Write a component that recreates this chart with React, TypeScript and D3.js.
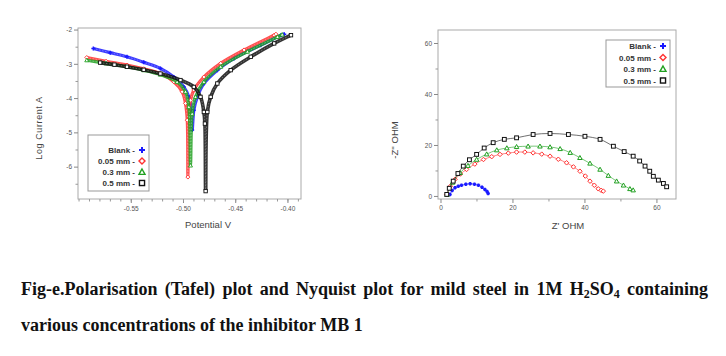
import React, { useLayoutEffect, useRef, useState } from "react";
import * as d3 from "d3";

// ---------- Data ----------
const seriesNames = ["Blank", "0.05 mm", "0.3 mm", "0.5 mm"];
const seriesColors = ["#1a1aff", "#ff3030", "#20a020", "#111111"];
const seriesShapes = ["plus", "diamond", "triangle", "square"];

// Tafel: [Potential V, log current]
const tafelBlank: [number, number][] = [
  [-0.5863, -2.54], [-0.5701, -2.66], [-0.5541, -2.78], [-0.5381, -2.94], [-0.5221, -3.12],
  [-0.5093, -3.37], [-0.4997, -3.66], [-0.4949, -3.95], [-0.4926, -4.34], [-0.4917, -4.92],
  [-0.4901, -4.34], [-0.4868, -3.95], [-0.4805, -3.56], [-0.4676, -3.17], [-0.4516, -2.83],
  [-0.4388, -2.62], [-0.426, -2.44], [-0.4067, -2.15], [-0.4035, -2.12],
];
const tafelC005: [number, number][] = [
  [-0.5926, -2.8], [-0.5741, -2.91], [-0.5541, -3.02], [-0.5381, -3.13], [-0.5221, -3.27],
  [-0.5093, -3.51], [-0.5013, -3.8], [-0.4981, -4.14], [-0.4964, -4.63], [-0.4958, -6.29],
  [-0.4949, -4.53], [-0.4933, -4.05], [-0.4901, -3.75], [-0.4805, -3.37], [-0.4644, -2.97],
  [-0.442, -2.58], [-0.4132, -2.15], [-0.4115, -2.12],
];
const tafelC03: [number, number][] = [
  [-0.5926, -2.88], [-0.5741, -2.97], [-0.5541, -3.07], [-0.5381, -3.17], [-0.5221, -3.3],
  [-0.5061, -3.51], [-0.4981, -3.8], [-0.4949, -4.24], [-0.4933, -5.95],
  [-0.4917, -4.44], [-0.4885, -3.95], [-0.4805, -3.51], [-0.4644, -3.07], [-0.4388, -2.63],
  [-0.41, -2.2], [-0.4055, -2.13],
];
const tafelC05: [number, number][] = [
  [-0.5798, -2.95], [-0.5661, -3.01], [-0.5541, -3.07], [-0.5381, -3.16], [-0.5221, -3.27],
  [-0.5029, -3.46], [-0.4901, -3.66], [-0.4837, -3.95], [-0.4805, -4.39], [-0.4795, -4.73],
  [-0.4788, -6.7], [-0.4772, -4.39], [-0.474, -3.95], [-0.4676, -3.56], [-0.4548, -3.17],
  [-0.4356, -2.78], [-0.4132, -2.39], [-0.3971, -2.15],
];

// Nyquist: [Z' ohm, -Z'' ohm]
const nyqBlank: [number, number][] = [
  [2.5, 0.8], [3.1, 2.3], [3.9, 3.4], [4.8, 4.0], [5.7, 4.4], [6.9, 4.8], [8.1, 5.0],
  [9.3, 4.8], [10.4, 4.4], [11.4, 3.6], [12.2, 2.7], [12.8, 1.9], [13.1, 1.2],
];
const nyqC005: [number, number][] = [
  [1.6, 0.8], [2.6, 4.0], [3.9, 6.7], [5.4, 8.8], [7.1, 10.6], [9.4, 12.7], [11.8, 14.5],
  [14.1, 15.6], [16.4, 16.5], [18.7, 17.0], [21.0, 17.4], [23.3, 17.4], [25.6, 17.1],
  [28.0, 16.6], [30.3, 15.8], [32.6, 14.6], [34.9, 13.2], [36.8, 11.6], [38.6, 9.9],
  [40.1, 8.0], [41.4, 6.0], [42.6, 4.4], [43.7, 3.0], [44.5, 2.4], [45.1, 2.1],
];
const nyqC03: [number, number][] = [
  [1.7, 0.8], [3.2, 5.5], [5.3, 9.3], [7.5, 12.1], [9.9, 14.5], [12.7, 16.6], [15.5, 18.2],
  [18.3, 19.0], [21.0, 19.5], [24.2, 19.7], [27.5, 19.7], [30.3, 19.4], [33.1, 18.7],
  [35.9, 17.2], [38.6, 15.2], [41.4, 13.0], [44.2, 10.6], [46.5, 8.2], [48.8, 6.0],
  [50.7, 4.4], [52.5, 3.0], [53.4, 2.5],
];
const nyqC05: [number, number][] = [
  [1.6, 0.8], [2.3, 3.2], [3.4, 6.0], [4.7, 9.0], [6.2, 11.9], [7.9, 14.4], [9.9, 16.5],
  [12.0, 19.0], [14.5, 21.1], [17.6, 22.4], [21.0, 23.0], [25.6, 24.3], [30.3, 24.7],
  [35.4, 24.3], [40.0, 23.6], [44.2, 22.4], [47.9, 19.7], [50.9, 17.6], [53.4, 15.8],
  [55.2, 13.9], [56.7, 11.9], [58.0, 9.9], [59.0, 7.9], [60.4, 6.4], [61.8, 5.1], [62.7, 3.8],
];

const tafelSeries = [tafelBlank, tafelC005, tafelC03, tafelC05];
const nyqSeries = [nyqBlank, nyqC005, nyqC03, nyqC05];

const tafelXTicks = [-0.55, -0.5, -0.45, -0.4];
const tafelXTickLabels = ["-0.55", "-0.50", "-0.45", "-0.40"];
const tafelYTicks = [-2, -3, -4, -5, -6];
const nyqXTicks = [0, 20, 40, 60];
const nyqYTicks = [0, 20, 40, 60];

const captionLine1 = ["Fig-e.Polarisation (Tafel) plot and Nyquist plot for mild steel in 1M H", "2", "SO", "4", " containing"];
const captionLine2 = "various concentrations of the inhibitor MB 1";

// ---------- Helpers ----------
function Marker({ shape, x, y, s, color, sw = 1 }: any) {
  const h = s / 2;
  if (shape === "plus")
    return (
      <path d={`M${x - h},${y}H${x + h}M${x},${y - h}V${y + h}`} stroke={color} strokeWidth={sw + 0.6} fill="none" />
    );
  if (shape === "diamond")
    return <path d={`M${x},${y - h}L${x + h},${y}L${x},${y + h}L${x - h},${y}Z`} stroke={color} strokeWidth={sw} fill="white" />;
  if (shape === "triangle")
    return <path d={`M${x},${y - h}L${x + h},${y + h * 0.8}L${x - h},${y + h * 0.8}Z`} stroke={color} strokeWidth={sw} fill="white" />;
  return <rect x={x - h * 0.85} y={y - h * 0.85} width={h * 1.7} height={h * 1.7} stroke={color} strokeWidth={sw} fill="white" />;
}

function Legend({ x, y, w, h, rowH, firstY }: any) {
  return (
    <g>
      <rect x={x} y={y} width={w} height={h} fill="white" stroke="#999" strokeWidth={1} />
      {seriesNames.map((n, i) => (
        <g key={n}>
          <text
            x={x + w - 14}
            y={firstY + i * rowH + 3}
            textAnchor="end"
            fontFamily="Liberation Sans, Arial, sans-serif"
            fontWeight="bold"
            fontSize={8}
            fill="#333"
          >
            {n + " -"}
          </text>
          <Marker shape={seriesShapes[i]} x={x + w - 7} y={firstY + i * rowH} s={6} color={seriesColors[i]} sw={1.4} />
        </g>
      ))}
    </g>
  );
}

const tickFont = "Liberation Sans, Arial, sans-serif";

export default function App() {
  // Tafel scales
  const tx = d3.scaleLinear().domain([-0.601, -0.3875]).range([78, 301]);
  const ty = d3.scaleLinear().domain([-6.93, -1.94]).range([199, 28]);
  // Nyquist scales
  const nx = d3.scaleLinear().domain([-0.83, 65.3]).range([438, 676]);
  const ny = d3.scaleLinear().domain([-1.0, 65.3]).range([199, 30]);

  const tLine = d3
    .line<[number, number]>()
    .x((d) => tx(d[0]))
    .y((d) => ty(d[1]))
    .curve(d3.curveCatmullRom.alpha(0.5));
  const nLine = d3.line<[number, number]>().x((d) => nx(d[0])).y((d) => ny(d[1])).curve(d3.curveCatmullRom);

  const tMinor = d3.range(-0.60, -0.385, 0.01);
  const tYMinor = d3.range(-6.5, -1.9, 1);
  const nMinorX = [10, 30, 50];
  const nMinorY = [10, 30, 50];

  const line1Ref = useRef<SVGTextElement>(null);
  const [ws, setWs] = useState(0);
  useLayoutEffect(() => {
    if (line1Ref.current) {
      line1Ref.current.setAttribute("word-spacing", "0");
      const natural = line1Ref.current.getComputedTextLength();
      const target = 708 - 21;
      const spaces = 12;
      setWs((target - natural) / spaces);
    }
  }, []);

  const capFont = "Liberation Serif, Times New Roman, serif";

  return (
    <svg width={726} height={356} style={{ position: "absolute", left: 0, top: 0, background: "white" }}>
      <rect width={726} height={356} fill="white" />
      {/* ---------- Tafel plot ---------- */}
      <g>
        <rect x={78} y={28} width={223} height={171} fill="none" stroke="#aaa" strokeWidth={1} />
        {tafelXTicks.map((t, i) => (
          <g key={t}>
            <line x1={tx(t)} x2={tx(t)} y1={199} y2={203} stroke="#888" />
            <text x={tx(t)} y={211} textAnchor="middle" fontSize={6.5} fontFamily={tickFont} fill="#555">
              {tafelXTickLabels[i]}
            </text>
          </g>
        ))}
        {tMinor.map((t, i) => (
          <line key={i} x1={tx(t)} x2={tx(t)} y1={199} y2={201.5} stroke="#999" />
        ))}
        {tafelYTicks.map((t) => (
          <g key={t}>
            <line x1={74} x2={78} y1={ty(t)} y2={ty(t)} stroke="#888" />
            <text x={72} y={ty(t) + 2.3} textAnchor="end" fontSize={6.5} fontFamily={tickFont} fill="#555">
              {t}
            </text>
          </g>
        ))}
        {tYMinor.map((t, i) => (
          <line key={i} x1={75.5} x2={78} y1={ty(t)} y2={ty(t)} stroke="#999" />
        ))}
        <text x={208} y={228} textAnchor="middle" fontSize={9.5} fontFamily={tickFont} fill="#444">
          Potential  V
        </text>
        <text
          transform={`translate(42,128) rotate(-90)`}
          textAnchor="middle"
          fontSize={9}
          fontFamily={tickFont}
          fill="#444"
          letterSpacing={0.6}
        >
          Log Current  A
        </text>
        {tafelSeries.map((s, i) => (
          <g key={i}>
            <path d={tLine(s) || ""} fill="none" stroke={seriesColors[i]} strokeWidth={i === 3 ? 3.6 : 3.2} opacity={0.85} />
            <path d={tLine(s) || ""} fill="none" stroke="white" strokeWidth={0.6} opacity={0.5} strokeDasharray="1.5 1.5" />
            {s.map((d, j) => (
              <Marker key={j} shape={seriesShapes[i]} x={tx(d[0])} y={ty(d[1])} s={4} color={seriesColors[i]} sw={0.9} />
            ))}
          </g>
        ))}
        <Legend x={88} y={135} w={61} h={56} rowH={11} firstY={150} />
      </g>

      {/* ---------- Nyquist plot ---------- */}
      <g>
        <rect x={438} y={30} width={238} height={169} fill="none" stroke="#aaa" strokeWidth={1} />
        {nyqXTicks.map((t) => (
          <g key={t}>
            <line x1={nx(t)} x2={nx(t)} y1={199} y2={203} stroke="#888" />
            <text x={nx(t)} y={210} textAnchor="middle" fontSize={6.5} fontFamily={tickFont} fill="#555">
              {t}
            </text>
          </g>
        ))}
        {nMinorX.map((t) => (
          <line key={t} x1={nx(t)} x2={nx(t)} y1={199} y2={201.5} stroke="#999" />
        ))}
        {nyqYTicks.map((t) => (
          <g key={t}>
            <line x1={434} x2={438} y1={ny(t)} y2={ny(t)} stroke="#888" />
            <text x={432} y={ny(t) + 2.3} textAnchor="end" fontSize={6.5} fontFamily={tickFont} fill="#555">
              {t}
            </text>
          </g>
        ))}
        {nMinorY.map((t) => (
          <line key={t} x1={435.5} x2={438} y1={ny(t)} y2={ny(t)} stroke="#999" />
        ))}
        <text x={568} y={229} textAnchor="middle" fontSize={9.5} fontFamily={tickFont} fill="#444">
          Z'  OHM
        </text>
        <text
          transform={`translate(398,140) rotate(-90)`}
          textAnchor="middle"
          fontSize={9.5}
          fontFamily={tickFont}
          fill="#444"
        >
          -Z''  OHM
        </text>
        {nyqSeries.map((s, i) => (
          <g key={i}>
            <path d={nLine(s) || ""} fill="none" stroke={seriesColors[i]} strokeWidth={1} opacity={0.6} />
            {s.map((d, j) => (
              <Marker key={j} shape={seriesShapes[i]} x={nx(d[0])} y={ny(d[1])} s={i === 0 ? 3.5 : 4.5} color={seriesColors[i]} sw={i === 0 ? 1.4 : 1} />
            ))}
          </g>
        ))}
        <Legend x={606} y={40} w={64} h={47} rowH={11.5} firstY={46} />
      </g>

      {/* ---------- Caption ---------- */}
      <text
        ref={line1Ref}
        x={21}
        y={295}
        fontFamily={capFont}
        fontWeight="bold"
        fontSize={18}
        fill="#111"
        wordSpacing={ws}
      >
        <tspan>{captionLine1[0]}</tspan>
        <tspan fontSize={12} dy={3}>{captionLine1[1]}</tspan>
        <tspan fontSize={18} dy={-3}>{captionLine1[2]}</tspan>
        <tspan fontSize={12} dy={3}>{captionLine1[3]}</tspan>
        <tspan fontSize={18} dy={-3}>{captionLine1[4]}</tspan>
      </text>
      <text x={21} y={331} fontFamily={capFont} fontWeight="bold" fontSize={18} fill="#111">
        {captionLine2}
      </text>
    </svg>
  );
}
